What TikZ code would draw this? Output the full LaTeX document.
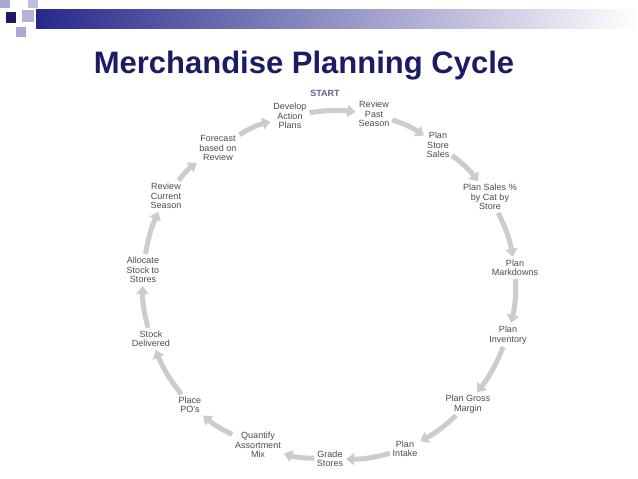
\documentclass[tikz,border=0pt]{standalone}
\usepackage{fontspec}
\setmainfont{Liberation Sans}
\usetikzlibrary{arrows.meta}
\definecolor{navy}{RGB}{28,28,100}
\definecolor{bar}{RGB}{40,40,140}
\tikzset{
 lbl/.style={align=center,font=\fontsize{9}{9.5}\selectfont,text=black!70,inner sep=1pt},
 arr/.style={draw=gray!40,line width=5pt,-{Triangle[width=12pt,length=8pt]},shorten <=2pt,shorten >=2pt}
}
\begin{document}
\begin{tikzpicture}[x=1pt,y=1pt]
\useasboundingbox (0,0) rectangle (638,-479);
\fill[white] (0,0) rectangle (638,-479);
\shade[left color=bar,right color=white] (36,-9) rectangle (638,-28);
\fill[bar!40] (0,0) rectangle (10,-8);
\fill[bar!30] (28,0) rectangle (38,-8);
\fill[navy] (6,-12) rectangle (16,-23);
\fill[bar!35] (22,-10) rectangle (34,-22);
\fill[bar!40] (16,-27) rectangle (26,-37);
\node[font=\bfseries\fontsize{31}{34}\selectfont,text=navy] (title) at (304,-66) {Merchandise Planning Cycle};
\node[font=\bfseries\fontsize{9}{10}\selectfont,text=navy!70] (start) at (325,-93) {START};
\node[lbl] (n1) at (290,-116) {Develop\\Action\\Plans};
\node[lbl] (n2) at (374,-114) {Review\\Past\\Season};
\node[lbl] (n3) at (438,-145) {Plan\\Store\\Sales};
\node[lbl] (n4) at (490,-197) {Plan Sales \%\\by Cat by\\Store};
\node[lbl] (n5) at (515,-268) {Plan\\Markdowns};
\node[lbl] (n6) at (508,-335) {Plan\\Inventory};
\node[lbl] (n7) at (468,-404) {Plan Gross\\Margin};
\node[lbl] (n8) at (405,-449) {Plan\\Intake};
\node[lbl] (n9) at (330,-459) {Grade\\Stores};
\node[lbl] (n10) at (258,-445) {Quantify\\Assortment\\Mix};
\node[lbl] (n11) at (190,-405) {Place\\PO's};
\node[lbl] (n12) at (151,-339) {Stock\\Delivered};
\node[lbl] (n13) at (143,-270) {Allocate\\Stock to\\Stores};
\node[lbl] (n14) at (166,-196) {Review\\Current\\Season};
\node[lbl] (n15) at (218,-148) {Forecast\\based on\\Review};
\foreach \a/\b in {n1/n2,n2/n3,n3/n4,n4/n5,n5/n6,n6/n7,n7/n8,n8/n9,n9/n10,n10/n11,n11/n12,n12/n13,n13/n14,n14/n15,n15/n1}
  \draw[arr] (\a) to[bend left=8] (\b);
\end{tikzpicture}
\end{document}
